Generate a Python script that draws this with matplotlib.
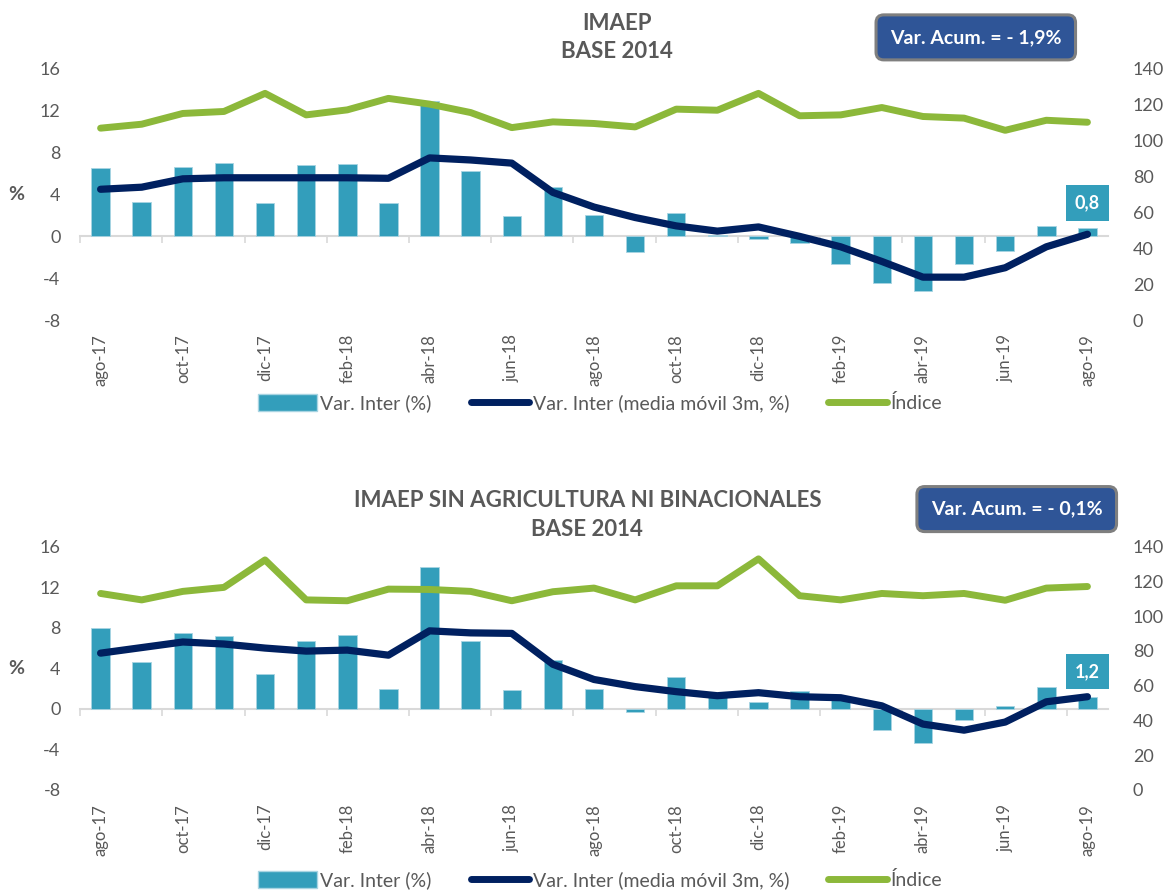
import numpy as np
import matplotlib
matplotlib.use("Agg")
import matplotlib.pyplot as plt
from matplotlib.patches import Patch
from matplotlib.lines import Line2D

plt.rcParams['font.family'] = ['Lato', 'DejaVu Sans']
plt.rcParams['axes.unicode_minus'] = False

# months shown on the x axis
meses = ['ago-17', 'sep-17', 'oct-17', 'nov-17', 'dic-17', 'ene-18', 'feb-18', 'mar-18',
         'abr-18', 'may-18', 'jun-18', 'jul-18', 'ago-18', 'sep-18', 'oct-18', 'nov-18',
         'dic-18', 'ene-19', 'feb-19', 'mar-19', 'abr-19', 'may-19', 'jun-19', 'jul-19', 'ago-19']

# IMAEP
var_imaep = [6.5, 3.3, 6.6, 7.0, 3.2, 6.8, 6.9, 3.2, 12.9, 6.2, 1.9, 4.7, 2.0, -1.5, 2.2, 0.1,
             -0.3, -0.6, -2.6, -4.5, -5.2, -2.6, -1.4, 1.0, 0.8]
mm_imaep = [4.5, 4.7, 5.5, 5.6, 5.6, 5.6, 5.6, 5.55, 7.5, 7.3, 7.0, 4.2, 2.8, 1.8, 1.0, 0.5,
            0.9, 0.0, -1.0, -2.4, -3.9, -3.9, -3.0, -1.0, 0.2]
idx_imaep = [107.0, 109.2, 115.2, 116.3, 126.4, 114.4, 117.2, 123.6, 120.4, 115.7, 107.3, 110.5,
             109.6, 107.7, 117.6, 117.0, 126.4, 113.9, 114.4, 118.5, 113.5, 112.6, 105.8, 111.4, 110.3]

# IMAEP sin agricultura ni binacionales
var_sin = [8.0, 4.6, 7.5, 7.2, 3.4, 6.7, 7.3, 2.0, 14.0, 6.7, 1.9, 4.8, 2.0, -0.3, 3.1, 1.3,
           0.7, 1.8, 0.9, -2.1, -3.4, -1.1, 0.3, 2.2, 1.2]
mm_sin = [5.5, 6.05, 6.6, 6.4, 6.0, 5.7, 5.8, 5.3, 7.7, 7.5, 7.45, 4.4, 2.9, 2.2, 1.7, 1.3,
          1.6, 1.2, 1.1, 0.3, -1.5, -2.1, -1.3, 0.7, 1.2]
idx_sin = [113.1, 109.4, 114.3, 116.6, 132.4, 109.4, 108.9, 115.6, 115.4, 114.3, 108.9, 114.1,
           116.2, 109.4, 117.5, 117.5, 133.0, 111.8, 109.4, 113.1, 111.8, 113.1, 109.2, 116.2, 117.1]

acum_imaep = -1.9
acum_sin = -0.1

BAR = '#339EBB'
NAVY = '#002060'
GREEN = '#8CB83A'
GRAY = '#595959'
AXIS = '#D9D9D9'


def fmt(v):
    return f"{v:.1f}".replace('.', ',')


def panel(fig, rect, var, mm, idx):
    x = np.arange(len(meses))
    ax = fig.add_axes(rect)
    ax.bar(x, var, width=0.45, color=BAR, edgecolor='#A8D4E2', linewidth=0.6, zorder=2)
    ax.plot(x, mm, color=NAVY, lw=5.2, solid_capstyle='round', solid_joinstyle='round', zorder=3)
    ax.set_xlim(-0.5, len(meses) - 0.5)
    ax.set_ylim(-8, 16)
    ax.set_yticks(range(-8, 17, 4))
    for s in ax.spines.values():
        s.set_visible(False)
    ax.set_xticks(x[::2])
    ax.set_xticklabels(meses[::2], rotation=90)
    ax.tick_params(axis='x', length=0, pad=10, labelsize=12, labelcolor=GRAY)
    ax.tick_params(axis='y', length=0, pad=14, labelsize=13, labelcolor=GRAY)

    # zero line with category tick marks
    zx = ax.secondary_xaxis(8 / 24)
    zx.set_xticks(np.arange(-0.5, len(meses), 2))
    zx.set_xticklabels([])
    zx.spines['bottom'].set_color(AXIS)
    zx.spines['bottom'].set_linewidth(1.5)
    zx.tick_params(axis='x', direction='out', length=5, width=1.2, color=AXIS)

    ax2 = ax.twinx()
    ax2.plot(x, idx, color=GREEN, lw=5, solid_capstyle='round', solid_joinstyle='round')
    ax2.set_ylim(0, 140)
    ax2.set_yticks(range(0, 141, 20))
    for s in ax2.spines.values():
        s.set_visible(False)
    ax2.tick_params(axis='y', length=0, pad=18, labelsize=13, labelcolor=GRAY)

    # label on last bar
    ax.annotate(fmt(var[-1]), (x[-1], var[-1]), xytext=(0, 18), textcoords='offset points',
                ha='center', va='center', color='white', fontsize=13, fontweight='bold',
                bbox=dict(boxstyle='square,pad=0.5', fc=BAR, ec='none'), zorder=5)
    ax.text(-0.062, 0.5, '%', transform=ax.transAxes, ha='center', va='center',
            fontsize=14, fontweight='bold', color=GRAY)
    return ax


fig = plt.figure(figsize=(11.7, 8.9), dpi=100)

panel(fig, [0.0684, 0.6404, 0.8786, 0.2821], var_imaep, mm_imaep, idx_imaep)
panel(fig, [0.0684, 0.1124, 0.8786, 0.2733], var_sin, mm_sin, idx_sin)

fig.text(0.527, 0.958, 'IMAEP\nBASE 2014', ha='center', va='center', fontsize=16,
         fontweight='bold', color=GRAY, linespacing=1.45)
fig.text(0.502, 0.421, 'IMAEP SIN AGRICULTURA NI BINACIONALES\nBASE 2014', ha='center',
         va='center', fontsize=16, fontweight='bold', color=GRAY, linespacing=1.45)

box = dict(boxstyle='round,pad=0.72,rounding_size=0.4', fc='#2F5597', ec='#7F7F7F', lw=2.2)
fig.text(0.834, 0.958, f'Var. Acum. = - {fmt(abs(acum_imaep))}%', ha='center', va='center',
         fontsize=14, fontweight='bold', color='white', bbox=box)
fig.text(0.869, 0.428, f'Var. Acum. = - {fmt(abs(acum_sin))}%', ha='center', va='center',
         fontsize=14, fontweight='bold', color='white', bbox=box)

handles = [Patch(facecolor=BAR, edgecolor='#A8D4E2'),
           Line2D([], [], color=NAVY, lw=5, solid_capstyle='round'),
           Line2D([], [], color=GREEN, lw=5, solid_capstyle='round')]
labels = ['Var. Inter (%)', 'Var. Inter (media móvil 3m, %)', 'Índice']
for ycen in (0.547, 0.011):
    fig.legend(handles, labels, loc='center', bbox_to_anchor=(0.513, ycen), ncol=3,
               frameon=False, fontsize=14, labelcolor=GRAY, handlelength=3.0,
               handleheight=0.9, handletextpad=0.2, columnspacing=2.0)

fig.savefig('out.png', dpi=100)
